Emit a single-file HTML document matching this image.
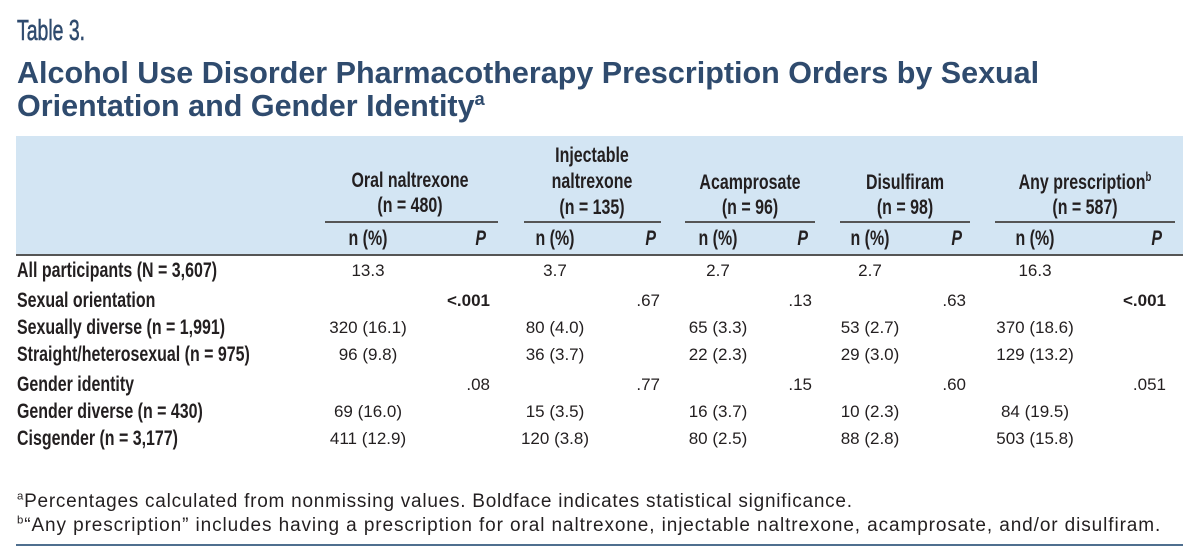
<!DOCTYPE html>
<html><head><meta charset="utf-8"><style>
body{margin:0;width:1200px;height:559px;background:#fff;position:relative;overflow:hidden;font-family:"Liberation Sans",sans-serif;color:#231f20}
.a{position:absolute;white-space:nowrap;line-height:1}
.k{font-weight:bold}
.cl{transform:scaleX(.76);transform-origin:left center}
.cc{transform:translateX(-50%) scaleX(.76);transform-origin:center}
.cr{transform:translateX(-100%) scaleX(.76);transform-origin:right center}
.nc{transform:translateX(-50%)}
.nr{transform:translateX(-100%)}
.h{font-size:21px;font-weight:bold}
.ul{position:absolute;height:2px;background:#555;top:221px}
sup{font-size:60%;line-height:0}
</style></head><body>
<div class="a" style="left:17px;top:17px;font-size:29px;color:#2f4b6e;transform:scaleX(.67);transform-origin:left center;-webkit-text-stroke:0.6px #2f4b6e">Table 3.</div>
<div class="a k" style="left:17px;top:57px;font-size:30.5px;color:#2f4b6e;line-height:33px">Alcohol Use Disorder Pharmacotherapy Prescription Orders by Sexual<br>Orientation and Gender Identity<sup>a</sup></div>
<div class="a" style="left:16px;top:136px;width:1167px;height:119px;background:#d3e5f3"></div>
<div class="a" style="left:16px;top:254px;width:1167px;height:2px;background:#555"></div>

<div class="a h cc" style="left:410px;top:170px">Oral naltrexone</div>
<div class="a h cc" style="left:410px;top:195px">(n = 480)</div>
<div class="a h cc" style="left:592px;top:143px;line-height:26px;text-align:center">Injectable<br>naltrexone<br>(n = 135)</div>
<div class="a h cc" style="left:750px;top:170px;line-height:25px;text-align:center">Acamprosate<br>(n = 96)</div>
<div class="a h cc" style="left:905px;top:170px;line-height:25px;text-align:center">Disulfiram<br>(n = 98)</div>
<div class="a h cc" style="left:1085px;top:170px;line-height:25px;text-align:center">Any prescription<sup>b</sup><br>(n = 587)</div>

<div class="ul" style="left:325px;width:173px"></div>
<div class="ul" style="left:524px;width:137px"></div>
<div class="ul" style="left:685px;width:130px"></div>
<div class="ul" style="left:840px;width:130px"></div>
<div class="ul" style="left:995px;width:180px"></div>

<div id="rows"></div>

<div class="a" style="left:17px;top:492px;font-size:19px;letter-spacing:0.75px"><sup>a</sup>Percentages calculated from nonmissing values. Boldface indicates statistical significance.</div>
<div class="a" style="left:17px;top:516px;font-size:19px;letter-spacing:0.9px"><sup>b</sup>“Any prescription” includes having a prescription for oral naltrexone, injectable naltrexone, acamprosate, and/or disulfiram.</div>
<div class="a" style="left:16px;top:544px;width:1167px;height:2px;background:#4f6f8f"></div>

<script>
const labels=["All participants (N = 3,607)","Sexual orientation","Sexually diverse (n = 1,991)","Straight/heterosexual (n = 975)","Gender identity","Gender diverse (n = 430)","Cisgender (n = 3,177)"];
const rowY=[270,300,327,354,384,411,438];
const oral=["13.3","","320 (16.1)","96 (9.8)","","69 (16.0)","411 (12.9)"];
const oralP=["","<.001","","",".08","",""];
const inj=["3.7","","80 (4.0)","36 (3.7)","","15 (3.5)","120 (3.8)"];
const injP=["",".67","","",".77","",""];
const acam=["2.7","","65 (3.3)","22 (2.3)","","16 (3.7)","80 (2.5)"];
const acamP=["",".13","","",".15","",""];
const dis=["2.7","","53 (2.7)","29 (3.0)","","10 (2.3)","88 (2.8)"];
const disP=["",".63","","",".60","",""];
const any=["16.3","","370 (18.6)","129 (13.2)","","84 (19.5)","503 (15.8)"];
const anyP=["","<.001","","",".051","",""];
const boldP=["<.001"];
const cols=[[oral,oralP,368,490],[inj,injP,555,660],[acam,acamP,718,812],[dis,disP,870,966],[any,anyP,1035,1166]];
const rows=document.getElementById('rows');
function mk(cls,txt,x,y,fs){const d=document.createElement('div');d.className='a '+cls;d.textContent=txt;d.style.left=x+'px';d.style.top=(y-fs/2)+'px';d.style.fontSize=fs+'px';rows.appendChild(d);return d;}
labels.forEach((t,i)=>{const d=mk('k cl',t,17,rowY[i],21);

});
cols.forEach(c=>{c[0].forEach((t,i)=>{if(!t)return;const d=mk('nc',t,c[2],rowY[i],17);

});
c[1].forEach((t,i)=>{if(!t)return;const d=mk('nr'+(boldP.includes(t)?' k':''),t,c[3],rowY[i],17);

});
const a=mk('k cc','n (%)',c[2],238,21);


const p=mk('k cr','P',c[3]-4,238,21);p.style.fontStyle='italic';

});
</script>
</body></html>
